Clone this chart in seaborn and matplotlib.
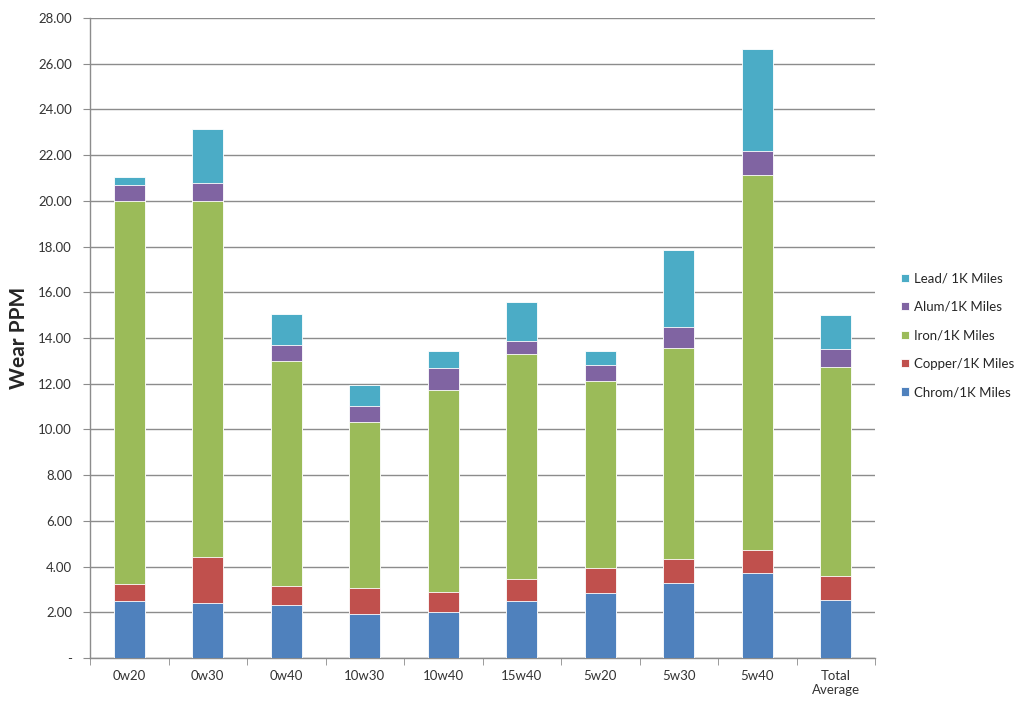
import pandas as pd
import matplotlib.pyplot as plt
import numpy as np
import seaborn as sns

# oil grades on the x axis
oils = ['0w20', '0w30', '0w40', '10w30', '10w40', '15w40', '5w20', '5w30', '5w40', 'Total\nAverage']

# wear per 1K miles (stack order bottom -> top)
chrom = [2.48, 2.39, 2.31, 1.91, 2.03, 2.48, 2.83, 3.28, 3.70, 2.52]
copper = [0.75, 2.02, 0.85, 1.14, 0.86, 0.98, 1.12, 1.06, 1.03, 1.07]
iron = [16.75, 15.57, 9.82, 7.28, 8.82, 9.84, 8.17, 9.21, 16.39, 9.14]
alum = [0.71, 0.80, 0.73, 0.70, 0.98, 0.57, 0.68, 0.93, 1.05, 0.78]
lead = [0.34, 2.37, 1.35, 0.93, 0.73, 1.69, 0.62, 3.36, 4.49, 1.51]

names = ['Chrom/1K Miles', 'Copper/1K Miles', 'Iron/1K Miles', 'Alum/1K Miles', 'Lead/ 1K Miles']
colors = ['#4F81BD', '#C0504D', '#9BBB59', '#8064A2', '#4BACC6']

df = pd.DataFrame({'oil': oils, names[0]: chrom, names[1]: copper,
                   names[2]: iron, names[3]: alum, names[4]: lead})
cum = df[names].cumsum(axis=1)

sns.set_style('white')
plt.rcParams['font.family'] = ['Lato', 'DejaVu Sans']

fig = plt.figure(figsize=(10.24, 7.06), dpi=100)
ax = fig.add_axes([0.0879, 0.068, 0.7666, 0.9065])

# draw cumulative totals from the top series down so they stack
for name, col in reversed(list(zip(names, colors))):
    sns.barplot(x=df['oil'], y=cum[name], color=col, saturation=1, width=0.39,
                edgecolor='white', linewidth=0.6, label=name, ax=ax, zorder=3)

ax.set_xlim(-0.5, len(oils) - 0.5)
ax.set_ylim(0, 28)
yt = np.arange(0, 29, 2)
ax.set_yticks(yt)
ax.set_yticklabels(['-' if v == 0 else '%.2f' % v for v in yt], fontsize=9.5, color='#333333')
ax.yaxis.grid(True, color='#8c8c8c', linewidth=1, zorder=0)
ax.set_axisbelow(True)

ax.set_xticks(np.arange(len(oils)))
ax.set_xticklabels(oils, fontsize=9.5, color='#333333', va='top')
ax.set_xticks(np.arange(len(oils) + 1) - 0.5, minor=True)
ax.tick_params(axis='x', which='major', length=0, pad=9)
ax.tick_params(axis='x', which='minor', length=5, color='#8c8c8c', direction='out', bottom=True)
ax.tick_params(axis='y', length=5, color='#8c8c8c', direction='out', left=True, pad=8)

for s in ['top', 'right']:
    ax.spines[s].set_visible(False)
for s in ['left', 'bottom']:
    ax.spines[s].set_color('#8c8c8c')
    ax.spines[s].set_linewidth(1)

ax.set_xlabel('')
ax.set_ylabel('Wear PPM', fontsize=15, fontweight='bold')
ax.yaxis.set_label_coords(-0.078, 0.5)

handles, labels = ax.get_legend_handles_labels()
if ax.legend_:
    ax.legend_.remove()
fig.legend(handles, labels, loc='center left', bbox_to_anchor=(0.868, 0.525),
           frameon=False, fontsize=9.5, handlelength=0.6, handleheight=0.6,
           handletextpad=0.4, labelspacing=1.25)

plt.savefig('out.png', dpi=100)
